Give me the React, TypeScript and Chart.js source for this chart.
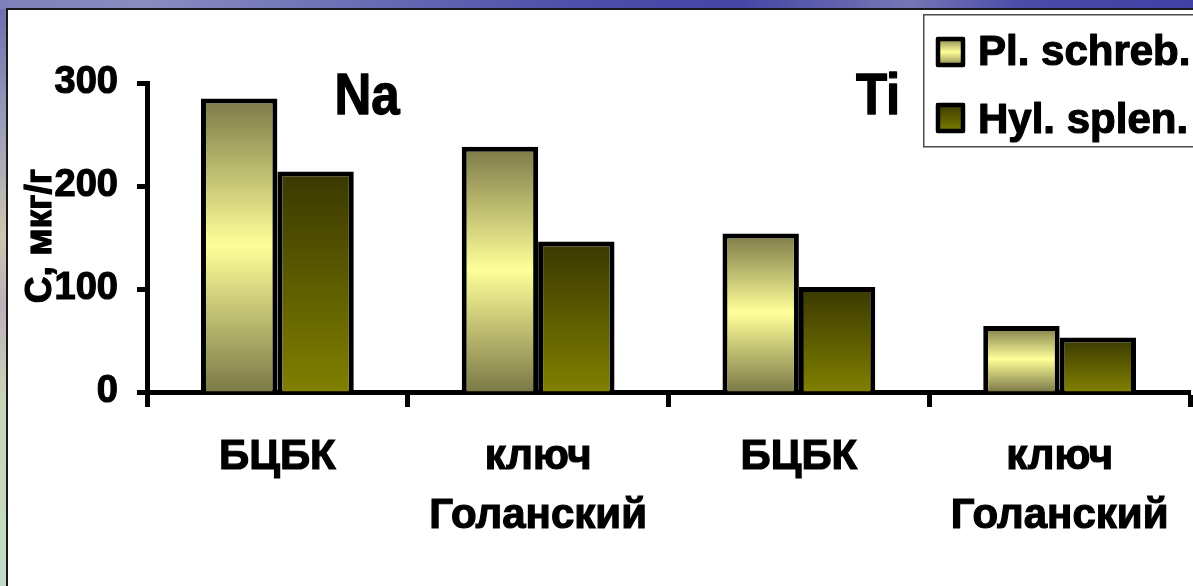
import React, { useEffect, useRef } from "react";
import { Chart, registerables } from "chart.js";

Chart.register(...registerables);

// Sampling sites (two per element group)
const categories: string[][] = [["БЦБК"], ["ключ", "Голанский"], ["БЦБК"], ["ключ", "Голанский"]];
// Moss species
const seriesNames = ["Pl. schreb.", "Hyl. splen."];
// Concentrations, µg/g
const plSchreb = [285, 238, 154, 64];
const hylSplen = [214, 146, 102, 53];
// Value axis ticks
const yTicks = [0, 100, 200, 300];
// Element captions over the two group pairs
const elementNames = ["Na", "Ti"];
const yTitle = "C, мкг/г";

const FONT = "'Liberation Sans', Arial, Helvetica, sans-serif";
const TEXT_STROKE = 1.2;

type Stops = [number, string][];
const plStops: Stops = [
  [0, "#7b7947"],
  [0.5, "#ffff99"],
  [1, "#7b7947"],
];
const hylStops: Stops = [
  [0, "#393700"],
  [1, "#808000"],
];

function vGradient(c: CanvasRenderingContext2D, top: number, bottom: number, stops: Stops) {
  const g = c.createLinearGradient(0, top, 0, bottom);
  stops.forEach(([o, col]) => g.addColorStop(o, col));
  return g;
}

const barFill = (stops: Stops) => (ctx: any) => {
  const chart = ctx.chart;
  const y = chart.scales && chart.scales.y;
  const fallback = stops[stops.length - 1][1];
  if (!y || ctx.type !== "data" || typeof ctx.raw !== "number") return fallback;
  const top = y.getPixelForValue(ctx.raw);
  const base = y.getPixelForValue(0);
  if (!Number.isFinite(top) || !Number.isFinite(base) || top === base) return fallback;
  return vGradient(chart.ctx, top, base, stops);
};

function boldText(ctx: CanvasRenderingContext2D, text: string, x: number, y: number) {
  ctx.fillText(text, x, y);
  ctx.lineWidth = TEXT_STROKE;
  ctx.strokeStyle = "#000";
  ctx.lineJoin = "round";
  ctx.strokeText(text, x, y);
}

const overlayPlugin = {
  id: "overlay",
  afterDraw(chart: any) {
    const { ctx, scales } = chart;
    ctx.save();

    // element captions, slightly tall letterforms
    ctx.fillStyle = "#000";
    ctx.font = `bold 51px ${FONT}`;
    ctx.textAlign = "left";
    ctx.textBaseline = "alphabetic";
    elementNames.forEach((name, i) => {
      ctx.save();
      ctx.translate(scales.x.getPixelForValue(i * 2) + 57, 114);
      ctx.scale(1, 1.12);
      boldText(ctx, name, 0, 0);
      ctx.restore();
    });

    // legend
    ctx.fillStyle = "#ffffff";
    ctx.fillRect(923, 14, 300, 133);
    ctx.lineWidth = 1.5;
    ctx.strokeStyle = "#4a4a4a";
    ctx.strokeRect(923.75, 14.75, 300, 132);
    const swatchStops = [plStops, hylStops];
    seriesNames.forEach((name, i) => {
      const y0 = 37 + i * 66;
      ctx.fillStyle = vGradient(ctx, y0, y0 + 30, swatchStops[i]);
      ctx.fillRect(936, y0, 29, 30);
      ctx.lineWidth = 4.5;
      ctx.lineJoin = "round";
      ctx.strokeStyle = "#000";
      ctx.strokeRect(938, y0 + 2, 25, 26);
      ctx.fillStyle = "#000";
      ctx.font = `bold 42px ${FONT}`;
      ctx.textAlign = "left";
      ctx.textBaseline = "alphabetic";
      boldText(ctx, name, 978, 65 + i * 68);
    });

    // value axis title
    ctx.translate(51, 236);
    ctx.rotate(-Math.PI / 2);
    ctx.font = `bold 37px ${FONT}`;
    ctx.textAlign = "center";
    ctx.textBaseline = "alphabetic";
    ctx.fillStyle = "#000";
    boldText(ctx, yTitle, 0, 0);

    ctx.restore();
  },
};

function BarChart() {
  const ref = useRef<HTMLCanvasElement | null>(null);

  useEffect(() => {
    if (!ref.current) return;
    const chart = new Chart(ref.current, {
      type: "bar",
      data: {
        labels: categories,
        datasets: [
          {
            label: seriesNames[0],
            data: plSchreb,
            backgroundColor: barFill(plStops),
            borderColor: "#000",
            borderWidth: 5,
            borderSkipped: "start",
          },
          {
            label: seriesNames[1],
            data: hylSplen,
            backgroundColor: barFill(hylStops),
            borderColor: "#000",
            borderWidth: 5,
            borderSkipped: "start",
          },
        ],
      },
      options: {
        responsive: false,
        animation: false,
        events: [],
        categoryPercentage: 0.586,
        barPercentage: 1,
        layout: { padding: { left: 0, right: 3, top: 83, bottom: 0 } },
        plugins: {
          legend: { display: false },
          tooltip: { enabled: false },
        },
        scales: {
          x: {
            z: 1,
            offset: true,
            grid: {
              offset: true,
              drawOnChartArea: false,
              drawTicks: true,
              tickLength: 15,
              tickWidth: 5,
              tickColor: "#000",
            },
            border: { display: true, color: "#000", width: 5 },
            ticks: {
              color: "#000",
              font: { family: FONT, size: 42, weight: "bold", lineHeight: 1.4 },
              textStrokeColor: "#000",
              textStrokeWidth: TEXT_STROKE,
              padding: 21,
              maxRotation: 0,
              autoSkip: false,
            },
            afterFit: (s: any) => {
              s.height = 194;
            },
          },
          y: {
            min: 0,
            max: 300,
            grid: {
              drawOnChartArea: false,
              drawTicks: true,
              tickLength: 10,
              tickWidth: 5,
              tickColor: "#000",
            },
            border: { display: true, color: "#000", width: 5 },
            ticks: {
              color: "#000",
              font: { family: FONT, size: 38, weight: "bold" },
              textStrokeColor: "#000",
              textStrokeWidth: TEXT_STROKE,
              padding: 19,
            },
            afterBuildTicks: (s: any) => {
              s.ticks = yTicks.map((v) => ({ value: v }));
            },
            afterFit: (s: any) => {
              s.width = 147;
            },
          },
        },
      },
      plugins: [overlayPlugin],
    });
    return () => chart.destroy();
  }, []);

  return (
    <canvas
      ref={ref}
      width={1193}
      height={586}
      style={{ position: "absolute", left: 0, top: 0, width: 1193, height: 586 }}
    />
  );
}

export default function App() {
  return (
    <div
      style={{
        position: "fixed",
        left: 0,
        top: 0,
        width: 1193,
        height: 586,
        overflow: "hidden",
        background:
          "linear-gradient(180deg, #6a6cae 0%, #9d9fb9 22%, #cdc5ae 40%, #bdb0bb 52%, #c9d5b7 68%, #c3dcc6 100%)",
      }}
    >
      <div
        style={{
          position: "absolute",
          left: 0,
          top: 0,
          width: 1193,
          height: 9,
          background:
            "linear-gradient(90deg, #7d80b9 0%, #8a8cc0 12%, #6d71b6 28%, #4d4fa9 48%, #4545a6 62%, #7576b4 76%, #4a4aa8 86%, #4141a5 100%)",
        }}
      />
      <div
        style={{
          position: "absolute",
          left: 6,
          top: 8,
          right: 0,
          bottom: 0,
          background: "#ffffff",
          borderLeft: "2px solid #1a1a1a",
          borderTop: "2px solid #1a1a1a",
        }}
      />
      <BarChart />
    </div>
  );
}
